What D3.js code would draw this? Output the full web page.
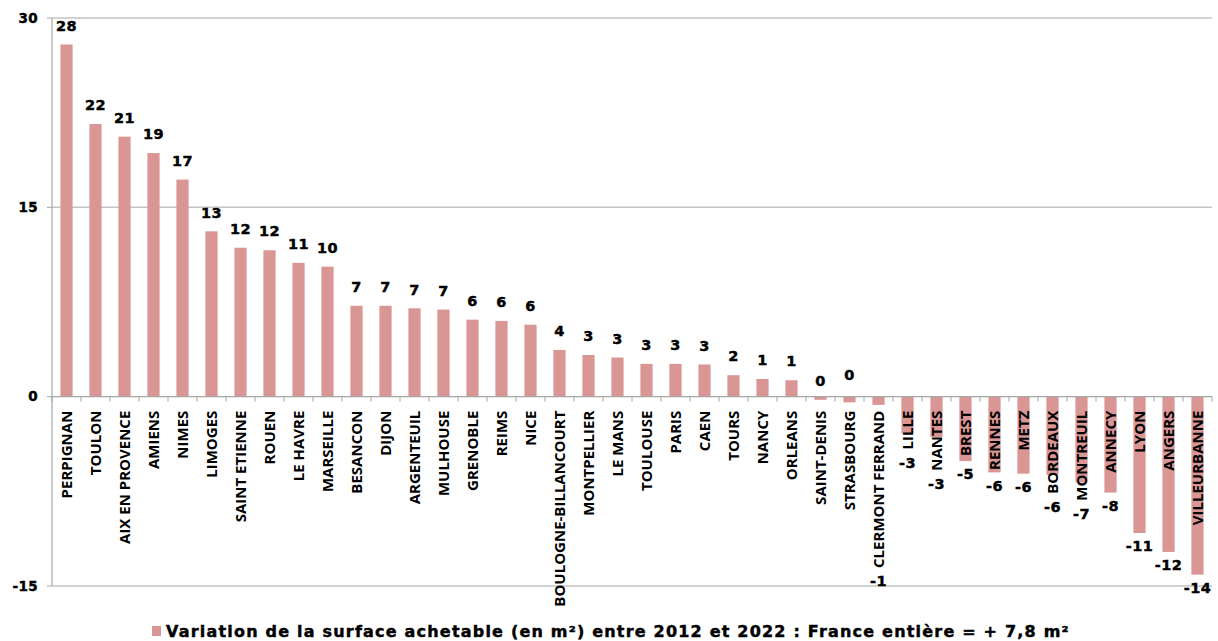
<!DOCTYPE html>
<html>
<head>
<meta charset="utf-8">
<script src="https://cdn.jsdelivr.net/npm/d3@7"></script>
<style>
  body { margin: 0; background: #fff; }
  svg { display: block; }
  .num { font-family: "DejaVu Sans", Verdana, sans-serif; font-weight: bold; fill: #000; stroke: #000; stroke-width: 0.45px; }
</style>
</head>
<body>
<div id="chart"></div>
<script>
// Villes, ordre du graphique
const cities = [
  'PERPIGNAN', 'TOULON', 'AIX EN PROVENCE', 'AMIENS', 'NIMES', 'LIMOGES',
  'SAINT ETIENNE', 'ROUEN', 'LE HAVRE', 'MARSEILLE', 'BESANCON', 'DIJON',
  'ARGENTEUIL', 'MULHOUSE', 'GRENOBLE', 'REIMS', 'NICE', 'BOULOGNE-BILLANCOURT',
  'MONTPELLIER', 'LE MANS', 'TOULOUSE', 'PARIS', 'CAEN', 'TOURS', 'NANCY',
  'ORLEANS', 'SAINT-DENIS', 'STRASBOURG', 'CLERMONT FERRAND', 'LILLE', 'NANTES',
  'BREST', 'RENNES', 'METZ', 'BORDEAUX', 'MONTREUIL', 'ANNECY', 'LYON',
  'ANGERS', 'VILLEURBANNE'
];

// Variation de la surface achetable (m²)
const variation = [
  27.9, 21.6, 20.6, 19.3, 17.2, 13.1,
  11.8, 11.6, 10.6, 10.3, 7.2, 7.2,
  7.0, 6.9, 6.1, 6.0, 5.7, 3.7,
  3.3, 3.1, 2.6, 2.6, 2.55, 1.7, 1.4,
  1.3, -0.25, -0.45, -0.65, -2.9, -3.2,
  -5.1, -6.0, -6.1, -6.2, -6.8, -7.6, -10.8,
  -12.3, -14.1
];

const yTicks = [30, 15, 0, -15];
const legendText = 'Variation de la surface achetable (en m²) entre 2012 et 2022 : France entière = + 7,8 m²';

const W = 1218, H = 641;
const margin = { left: 52, right: 6, top: 18, bottom: 55 };
const BAR = '#d99694';

const svg = d3.select('#chart').append('svg')
  .attr('width', W)
  .attr('height', H);

const x = d3.scaleBand()
  .domain(cities)
  .range([margin.left, W - margin.right])
  .paddingInner(0.58)
  .paddingOuter(0.29);

const y = d3.scaleLinear()
  .domain([-15, 30])
  .range([H - margin.bottom, margin.top]);

const step = x.step();
const x0 = margin.left;
const x1 = margin.left + step * cities.length;

// gridlines
svg.append('g')
  .selectAll('line')
  .data(yTicks.filter(d => d !== 0))
  .join('line')
  .attr('x1', x0).attr('x2', x1)
  .attr('y1', d => y(d)).attr('y2', d => y(d))
  .attr('stroke', '#c4c4c4')
  .attr('stroke-width', 1.5);

// bars
svg.append('g')
  .selectAll('rect')
  .data(cities)
  .join('rect')
  .attr('x', d => x(d))
  .attr('width', x.bandwidth())
  .attr('y', (d, i) => y(Math.max(0, variation[i])))
  .attr('height', (d, i) => Math.abs(y(variation[i]) - y(0)))
  .attr('fill', BAR);

// left axis
const yAxis = svg.append('g').attr('transform', `translate(${x0},0)`);
yAxis.append('line')
  .attr('y1', y(30)).attr('y2', y(-15))
  .attr('stroke', '#a6a6a6').attr('stroke-width', 1.2);
yAxis.selectAll('line.tick')
  .data(yTicks)
  .join('line')
  .attr('class', 'tick')
  .attr('x1', -5).attr('x2', 0)
  .attr('y1', d => y(d)).attr('y2', d => y(d))
  .attr('stroke', '#a6a6a6');
yAxis.selectAll('text')
  .data(yTicks)
  .join('text')
  .attr('class', 'num')
  .attr('x', -14)
  .attr('y', d => y(d))
  .attr('dy', '0.35em')
  .attr('text-anchor', 'end')
  .style('font-size', '13.5px')
  .style('letter-spacing', '0.4px')
  .text(d => d);

// zero line with category ticks
const zero = y(0);
svg.append('line')
  .attr('x1', x0).attr('x2', x1)
  .attr('y1', zero).attr('y2', zero)
  .attr('stroke', '#a6a6a6').attr('stroke-width', 1.2);
svg.append('g')
  .selectAll('line')
  .data(d3.range(cities.length + 1))
  .join('line')
  .attr('x1', i => x0 + i * step).attr('x2', i => x0 + i * step)
  .attr('y1', zero).attr('y2', zero + 5)
  .attr('stroke', '#a6a6a6');

// category labels (rotated, drawn over the bars)
const catLabels = svg.append('g')
  .selectAll('text')
  .data(cities)
  .join('text')
  .attr('transform', d => `translate(${x(d) + x.bandwidth() / 2},${zero + 14}) rotate(-90)`)
  .attr('dy', '0.36em')
  .attr('text-anchor', 'end')
  .style('font-family', '"Open Sans", sans-serif')
  .style('font-weight', '700')
  .style('font-size', '15px')
  .style('fill', '#000')
  .text(d => d);

const labelLen = [];
catLabels.each(function () { labelLen.push(this.getComputedTextLength()); });

// value labels
svg.append('g')
  .selectAll('text')
  .data(cities)
  .join('text')
  .attr('class', 'num')
  .attr('x', d => x(d) + x.bandwidth() / 2)
  .attr('y', (d, i) => {
    const v = variation[i];
    const r = Math.round(v);
    if (r >= 0 && v >= 0) return y(v) - 19;
    if (r === 0) return zero - 16 - (i % 2) * 6;
    const textEnd = zero + 14 + labelLen[i];
    return Math.max(y(v), textEnd) + 13;
  })
  .attr('dy', '0.36em')
  .attr('text-anchor', 'middle')
  .style('font-size', '14.5px')
  .style('letter-spacing', '0.5px')
  .text((d, i) => String(Math.round(variation[i]) || 0));

// legend
const legend = svg.append('g').attr('transform', `translate(152, ${H - 4})`);
legend.append('rect')
  .attr('x', 0).attr('y', -11)
  .attr('width', 9).attr('height', 10)
  .attr('fill', BAR);
legend.append('text')
  .attr('class', 'num')
  .attr('x', 14).attr('y', 0)
  .style('font-size', '16px')
  .style('letter-spacing', '1.2px')
  .text(legendText);
</script>
</body>
</html>
